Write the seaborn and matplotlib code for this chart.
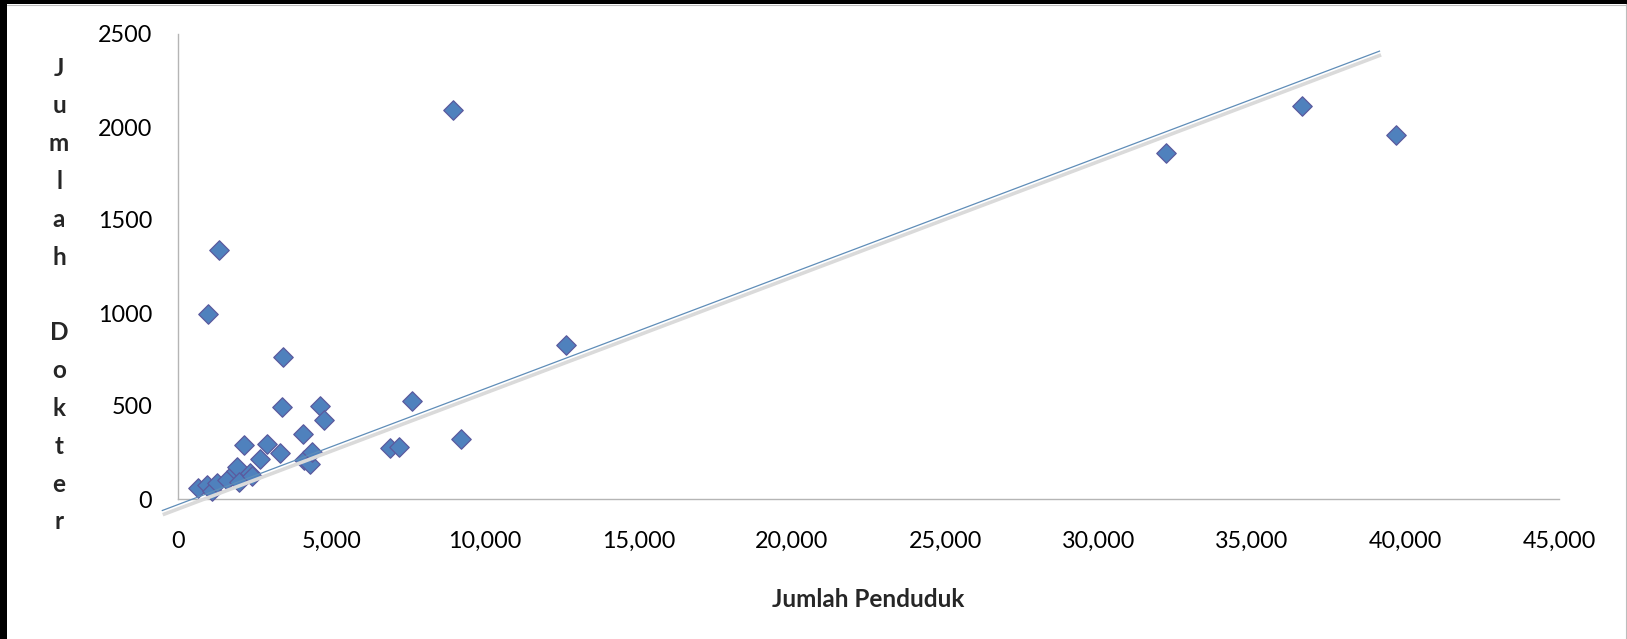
import numpy as np
import pandas as pd
import matplotlib
matplotlib.use("Agg")
import matplotlib.pyplot as plt
import matplotlib.transforms as mtransforms
from matplotlib.patches import Rectangle
from matplotlib.lines import Line2D
import seaborn as sns

# ---- data ----
jumlah_penduduk = [660, 955, 1100, 1280, 1590, 1880, 1935, 2000, 2150, 2345,
                   2400, 2670, 2910, 3330, 3380, 3420, 4070, 4106, 4300, 4356,
                   4620, 4745, 6910, 7200, 7615, 8950, 9220, 12640, 977, 1326,
                   32210, 36630, 39690]
jumlah_dokter = [60, 75, 45, 88, 102, 150, 172, 93, 292, 138,
                 125, 213, 295, 249, 493, 765, 349, 210, 190, 254,
                 498, 424, 272, 278, 529, 2093, 321, 828, 993, 1339,
                 1858, 2113, 1957]

trend_x_range = [-530, 39170]
trend_slope = 0.06227
trend_intercept = -30.0

x_ticks = [0, 5000, 10000, 15000, 20000, 25000, 30000, 35000, 40000, 45000]
x_tick_labels = ["0", "5,000", "10,000", "15,000", "20,000", "25,000",
                 "30,000", "35,000", "40,000", "45,000"]
y_ticks = [0, 500, 1000, 1500, 2000, 2500]
y_tick_labels = ["0", "500", "1000", "1500", "2000", "2500"]

x_label = "Jumlah Penduduk"
y_label = "Jumlah Dokter"

df = pd.DataFrame({"penduduk": jumlah_penduduk, "dokter": jumlah_dokter})

# ---- style ----
sns.set_theme(style="white")
plt.rcParams["font.family"] = ["Lato", "DejaVu Sans"]

W, H = 1627, 639
fig = plt.figure(figsize=(W / 100, H / 100), dpi=100)
fig.patch.set_facecolor("white")

ax_left, ax_right, ax_top, ax_bottom = 178, 1559, 34, 499
ax = fig.add_axes([ax_left / W, 1 - ax_bottom / H,
                   (ax_right - ax_left) / W, (ax_bottom - ax_top) / H])
ax.set_facecolor("white")

sns.scatterplot(data=df, x="penduduk", y="dokter", ax=ax, marker="D", s=98,
                color="#4F81BD", edgecolor="#5B5A9E", linewidth=0.9,
                zorder=3, clip_on=False)

# trend line with soft shadow
tx = np.array(trend_x_range, dtype=float)
ty = trend_slope * tx + trend_intercept
shadow_tr = ax.transData + mtransforms.ScaledTranslation(1 / 100, -4 / 100, fig.dpi_scale_trans)
ax.plot(tx, ty, color="#DADADA", lw=2.6, transform=shadow_tr, clip_on=False,
        zorder=3.5, solid_capstyle="butt")
ax.plot(tx, ty, color="#5F8DB8", lw=0.9, clip_on=False, zorder=4,
        solid_capstyle="butt")

ax.set_xlim(0, 45000)
ax.set_ylim(0, 2500)
ax.set_xticks(x_ticks)
ax.set_xticklabels(x_tick_labels)
ax.set_yticks(y_ticks)
ax.set_yticklabels(y_tick_labels)
ax.tick_params(axis="both", length=0, labelsize=16.8, colors="#000000")
ax.tick_params(axis="x", pad=23)
ax.tick_params(axis="y", pad=18.5)
ax.grid(False)

for side in ["top", "right"]:
    ax.spines[side].set_visible(False)
for side in ["left", "bottom"]:
    ax.spines[side].set_color("#B5B5B5")
    ax.spines[side].set_linewidth(1.0)

ax.set_xlabel(x_label, fontsize=17.5, fontweight="bold", labelpad=26)
stacked = "\n".join(list(y_label))
ax.set_ylabel(stacked, rotation=0, fontsize=17.5, fontweight="bold",
              linespacing=1.78, ha="center", va="center")
ax.yaxis.set_label_coords((59 - ax_left) / (ax_right - ax_left),
                          (ax_bottom - 295) / (ax_bottom - ax_top))

# frame borders of the screenshot
fig.add_artist(Rectangle((0, 1 - 4 / H), 1, 4 / H, transform=fig.transFigure,
                         facecolor="black", edgecolor="none", zorder=10))
fig.add_artist(Rectangle((0, 0), 7 / W, 1, transform=fig.transFigure,
                         facecolor="black", edgecolor="none", zorder=10))
fig.add_artist(Line2D([1625.5 / W, 1625.5 / W], [0, 1 - 4 / H], transform=fig.transFigure,
                      color="#BDBDBD", lw=0.8, zorder=10))
fig.add_artist(Line2D([7 / W, 1625.5 / W], [1 - 4.5 / H, 1 - 4.5 / H], transform=fig.transFigure,
                      color="#BDBDBD", lw=0.8, zorder=10))

fig.savefig("out.png", dpi=100, facecolor="white")
